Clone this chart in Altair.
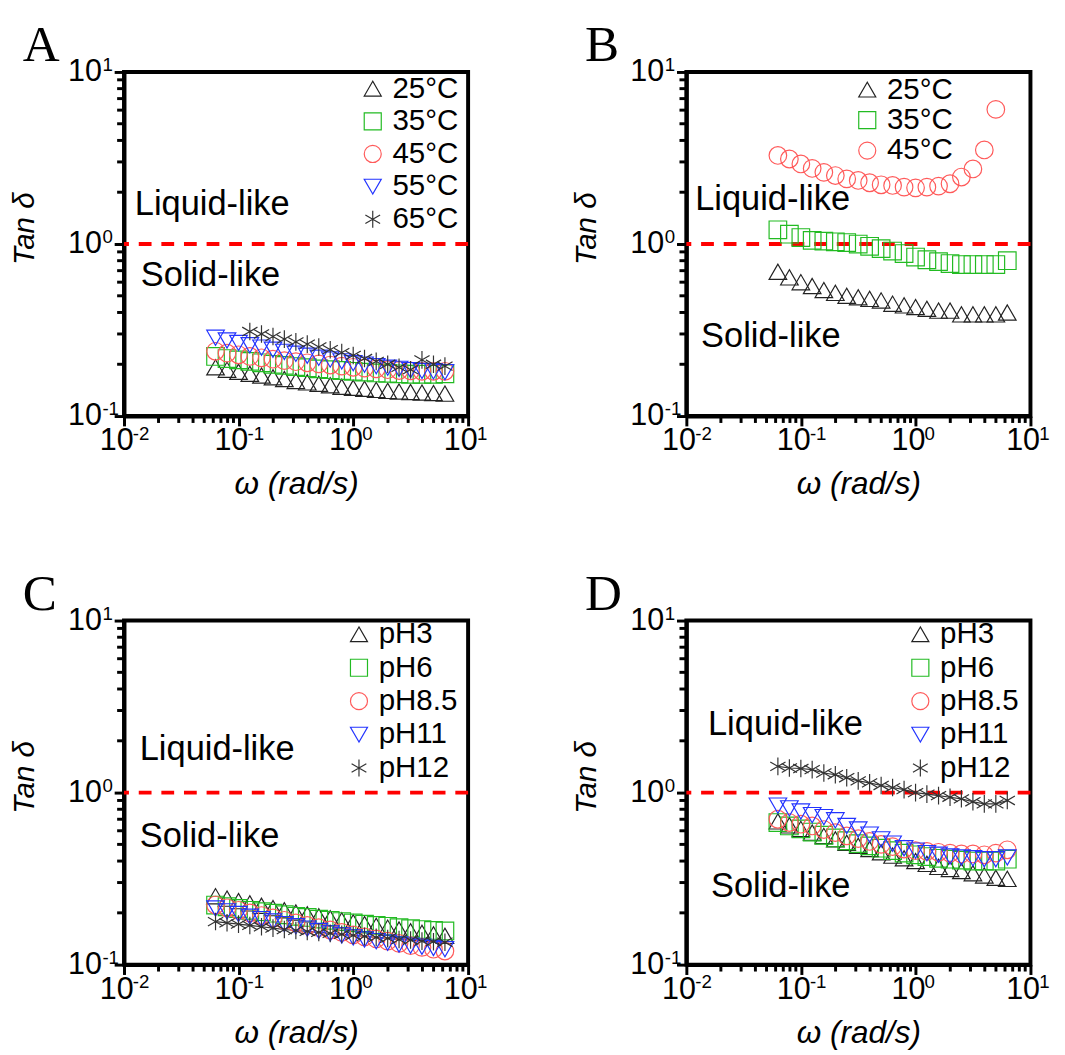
import altair as alt
import pandas as pd

# ---------------- data ----------------
OMEGA = [0.0628, 0.0791, 0.0996, 0.125, 0.158, 0.199, 0.250, 0.315, 0.396, 0.499,
         0.628, 0.791, 0.996, 1.25, 1.58, 1.99, 2.50, 3.15, 3.96, 4.99, 6.28]

PANEL_LETTERS = ["A", "B", "C", "D"]
ANNOTATIONS = ["Liquid-like", "Solid-like"]

A_SERIES = ["25°C", "35°C", "45°C", "55°C", "65°C"]
A_25 = [0.192, 0.186, 0.181, 0.176, 0.172, 0.168, 0.164, 0.160, 0.157, 0.154, 0.151,
        0.148, 0.146, 0.144, 0.142, 0.140, 0.139, 0.138, 0.137, 0.136, 0.135]
A_35 = [0.222, 0.216, 0.212, 0.208, 0.204, 0.200, 0.197, 0.194, 0.191, 0.188, 0.186,
        0.184, 0.182, 0.180, 0.178, 0.177, 0.176, 0.175, 0.175, 0.175, 0.176]
A_45 = [0.238, 0.232, 0.227, 0.222, 0.218, 0.214, 0.210, 0.207, 0.204, 0.201, 0.198,
        0.195, 0.192, 0.190, 0.188, 0.186, 0.184, 0.183, 0.182, 0.182, 0.182]
A_55 = [0.285, 0.275, 0.266, 0.258, 0.250, 0.243, 0.236, 0.230, 0.224, 0.218, 0.213,
        0.208, 0.203, 0.199, 0.195, 0.191, 0.188, 0.185, 0.183, 0.182, 0.180]
A_65 = [None, None, None, 0.310, 0.300, 0.290, 0.280, 0.270, 0.262, 0.252, 0.243,
        0.234, 0.225, 0.216, 0.208, 0.200, 0.192, 0.186, 0.212, 0.200, 0.195]

B_SERIES = ["25°C", "35°C", "45°C"]
B_25 = [0.69, 0.64, 0.60, 0.57, 0.54, 0.52, 0.50, 0.49, 0.48, 0.47, 0.45,
        0.44, 0.43, 0.42, 0.41, 0.41, 0.39, 0.39, 0.39, 0.39, 0.40]
B_35 = [1.21, 1.14, 1.09, 1.05, 1.04, 1.03, 1.02, 1.00, 0.97, 0.94, 0.91,
        0.88, 0.84, 0.81, 0.79, 0.77, 0.76, 0.76, 0.76, 0.76, 0.80]
B_45 = [3.27, 3.12, 2.92, 2.75, 2.61, 2.50, 2.39, 2.34, 2.27, 2.21, 2.19,
        2.14, 2.12, 2.14, 2.17, 2.24, 2.45, 2.73, 3.52, 6.06, None]

C_SERIES = ["pH3", "pH6", "pH8.5", "pH11", "pH12"]
C_3 = [0.250, 0.242, 0.234, 0.227, 0.220, 0.213, 0.207, 0.201, 0.196, 0.191, 0.186,
       0.181, 0.176, 0.172, 0.168, 0.164, 0.160, 0.156, 0.153, 0.150, 0.147]
C_6 = [0.222, 0.217, 0.212, 0.207, 0.203, 0.199, 0.195, 0.191, 0.188, 0.184, 0.181,
       0.178, 0.175, 0.172, 0.169, 0.167, 0.164, 0.162, 0.160, 0.158, 0.157]
C_85 = [0.222, 0.214, 0.207, 0.200, 0.193, 0.187, 0.181, 0.175, 0.169, 0.164, 0.159,
        0.154, 0.149, 0.145, 0.141, 0.137, 0.133, 0.129, 0.126, 0.123, 0.120]
C_11 = [0.212, 0.204, 0.197, 0.190, 0.184, 0.178, 0.172, 0.167, 0.162, 0.157, 0.152,
        0.148, 0.144, 0.140, 0.137, 0.134, 0.131, 0.129, 0.127, 0.125, 0.123]
C_12 = [0.178, 0.175, 0.172, 0.169, 0.166, 0.163, 0.160, 0.158, 0.156, 0.154, 0.152,
        0.150, 0.148, 0.146, 0.144, 0.142, 0.140, 0.139, 0.137, 0.136, 0.135]

D_SERIES = ["pH3", "pH6", "pH8.5", "pH11", "pH12"]
D_3 = [0.68, 0.645, 0.615, 0.585, 0.56, 0.535, 0.51, 0.49, 0.47, 0.45, 0.43,
       0.415, 0.40, 0.385, 0.37, 0.36, 0.35, 0.34, 0.33, 0.32, 0.315]
D_6 = [0.67, 0.64, 0.615, 0.59, 0.565, 0.545, 0.525, 0.505, 0.49, 0.475, 0.46,
       0.445, 0.435, 0.425, 0.415, 0.41, 0.405, 0.40, 0.40, 0.40, 0.41]
D_85 = [0.70, 0.67, 0.655, 0.64, 0.61, 0.585, 0.56, 0.54, 0.52, 0.50, 0.485,
        0.47, 0.46, 0.455, 0.45, 0.445, 0.44, 0.44, 0.435, 0.445, 0.465]
D_11 = [0.84, 0.81, 0.776, 0.74, 0.72, 0.69, 0.64, 0.61, 0.57, 0.535, 0.505,
        0.475, 0.46, 0.445, 0.435, 0.425, 0.42, 0.415, 0.41, 0.41, 0.42]
D_12 = [1.42, 1.39, 1.38, 1.36, 1.30, 1.27, 1.22, 1.17, 1.14, 1.10, 1.07,
        1.04, 1.00, 0.98, 0.96, 0.94, 0.92, 0.885, 0.86, 0.86, 0.90]

X_DECADES = [0.01, 0.1, 1, 10]
X_EXPONENTS = ["-2", "-1", "0", "1"]
Y_DECADES = [0.1, 1, 10]
Y_EXPONENTS = ["-1", "0", "1"]
X_MINOR = [0.02, 0.03, 0.04, 0.05, 0.06, 0.07, 0.08, 0.09,
           0.2, 0.3, 0.4, 0.5, 0.6, 0.7, 0.8, 0.9,
           2, 3, 4, 5, 6, 7, 8, 9]
Y_MINOR = [0.2, 0.3, 0.4, 0.5, 0.6, 0.7, 0.8, 0.9,
           2, 3, 4, 5, 6, 7, 8, 9]

# ---------------- styles ----------------
STAR = "M0,-1L0,1M-0.866,-0.5L0.866,0.5M-0.866,0.5L0.866,-0.5"
SHAPES = ["triangle-up", "square", "circle", "triangle-down", STAR]
COLORS = ["#222222", "#22bb22", "#ff5a5a", "#2233ff", "#333333"]
FONT = "Liberation Sans"
W = H = 350
TICK_FS = 31
SUP_FS = 19

XS = alt.Scale(type="log", domain=[0.01, 10], nice=False)
YS = alt.Scale(type="log", domain=[0.1, 10], nice=False)

AX_X = alt.Axis(values=X_DECADES, labelExpr="'10'", tickSize=10, tickWidth=3,
                tickColor="black", domainWidth=4, domainColor="black",
                labelFont=FONT, labelFontSize=TICK_FS, labelColor="black", labelPadding=0,
                labelOffset=-8, labelOverlap=False, labelFlush=False, grid=False,
                title="ω (rad/s)", titleFont=FONT, titleFontSize=32,
                titleFontStyle="italic", titleFontWeight="normal", titleColor="black",
                titleX=W / 2, titleY=54, titleBaseline="top")
AX_Y = alt.Axis(values=Y_DECADES, labelExpr="'10'", tickSize=10, tickWidth=3,
                tickColor="black", domainWidth=4, domainColor="black",
                labelFont=FONT, labelFontSize=TICK_FS, labelColor="black", labelPadding=13,
                labelOverlap=False, labelFlush=False, grid=False,
                title="Tan δ", titleFont=FONT, titleFontSize=30,
                titleFontStyle="italic", titleFontWeight="normal", titleColor="black",
                titleX=-86, titleY=159, titleAngle=270)


def long_df(series, columns):
    rows = []
    for name, vals in zip(series, columns):
        for w, v in zip(OMEGA, vals):
            if v is not None:
                rows.append({"s": name, "w": w, "v": v})
    return pd.DataFrame(rows)


def panel(letter, series, columns, legend_xy, row_pad, liquid_xy, solid_xy, line_series=()):
    df = long_df(series, columns)
    n = len(series)
    leg = alt.Legend(orient="none", legendX=legend_xy[0], legendY=legend_xy[1],
                     title=None, labelFont=FONT, labelFontSize=30, labelColor="black",
                     symbolSize=300, symbolStrokeWidth=1.2, rowPadding=row_pad,
                     labelOffset=5, padding=0, labelLimit=300)
    x_enc = alt.X("w:Q", scale=XS, axis=AX_X)
    y_enc = alt.Y("v:Q", scale=YS, axis=AX_Y)

    dashed = alt.Chart(pd.DataFrame({"v": [1.0]})).mark_rule(
        color="#ff0000", strokeDash=[13, 10], strokeWidth=4).encode(y=y_enc)

    minor_x = alt.Chart(pd.DataFrame({"w": X_MINOR})).mark_rule(
        color="black", strokeWidth=3).encode(x=x_enc, y=alt.value(H), y2=alt.value(H + 7))
    minor_y = alt.Chart(pd.DataFrame({"v": Y_MINOR})).mark_rule(
        color="black", strokeWidth=3).encode(y=y_enc, x=alt.value(0), x2=alt.value(-7))

    sup_x = alt.Chart(pd.DataFrame({"w": X_DECADES, "e": X_EXPONENTS})).mark_text(
        align="left", baseline="alphabetic", font=FONT, fontSize=SUP_FS, color="black",
        dx=9).encode(x=x_enc, y=alt.value(H + 24), text="e:N")
    sup_y = alt.Chart(pd.DataFrame({"v": Y_DECADES, "e": Y_EXPONENTS})).mark_text(
        align="left", baseline="alphabetic", font=FONT, fontSize=SUP_FS, color="black",
        dy=-1).encode(y=y_enc, x=alt.value(-22), text="e:N")

    layers = [dashed, minor_x, minor_y, sup_x, sup_y]

    for i, name in enumerate(series):
        if name in line_series:
            layers.append(
                alt.Chart(df[df.s == name]).mark_line(color=COLORS[i], strokeWidth=1.2)
                .encode(x=x_enc, y=y_enc))

    pts = alt.Chart(df).mark_point(filled=False, size=320, strokeWidth=1.2, opacity=1).encode(
        x=x_enc, y=y_enc,
        color=alt.Color("s:N", scale=alt.Scale(domain=series, range=COLORS[:n]), legend=leg),
        shape=alt.Shape("s:N", scale=alt.Scale(domain=series, range=SHAPES[:n]), legend=leg),
    )
    layers.append(pts)

    for txt, (tx, ty) in zip(ANNOTATIONS, [liquid_xy, solid_xy]):
        layers.append(
            alt.Chart(pd.DataFrame({"t": [txt]})).mark_text(
                align="left", baseline="alphabetic", font=FONT, fontSize=35, color="black")
            .encode(text="t:N", x=alt.value(tx), y=alt.value(ty)))

    layers.append(
        alt.Chart(pd.DataFrame({"t": [letter]})).mark_text(
            align="left", baseline="alphabetic", font="Liberation Serif", fontSize=52,
            color="black")
        .encode(text="t:N", x=alt.value(-103), y=alt.value(-11)))

    return alt.layer(*layers).properties(width=W, height=H)


pA = panel(PANEL_LETTERS[0], A_SERIES, [A_25, A_35, A_45, A_55, A_65],
           (238, 2), 3.2, (11, 145), (17, 218))
pB = panel(PANEL_LETTERS[1], B_SERIES, [B_25, B_35, B_45],
           (169, 3), 1, (9, 140), (15, 280))
pC = panel(PANEL_LETTERS[2], C_SERIES, [C_3, C_6, C_85, C_11, C_12],
           (224, -1), 4, (16, 142), (16, 230), line_series=("pH12",))
pD = panel(PANEL_LETTERS[3], D_SERIES, [D_3, D_6, D_85, D_11, D_12],
           (223, -1), 4, (22, 116), (25, 281), line_series=("pH12",))

chart = alt.concat(
    pA, pB, pC, pD, columns=2, spacing={"row": 208, "column": 222}, bounds="flush"
).resolve_scale(
    color="independent", shape="independent"
).properties(
    padding={"left": 0, "top": 1, "right": 5, "bottom": 5}
).configure_view(
    stroke="black", strokeWidth=4
)

chart.save("out.html", embed_options={"renderer": "svg", "actions": False})
